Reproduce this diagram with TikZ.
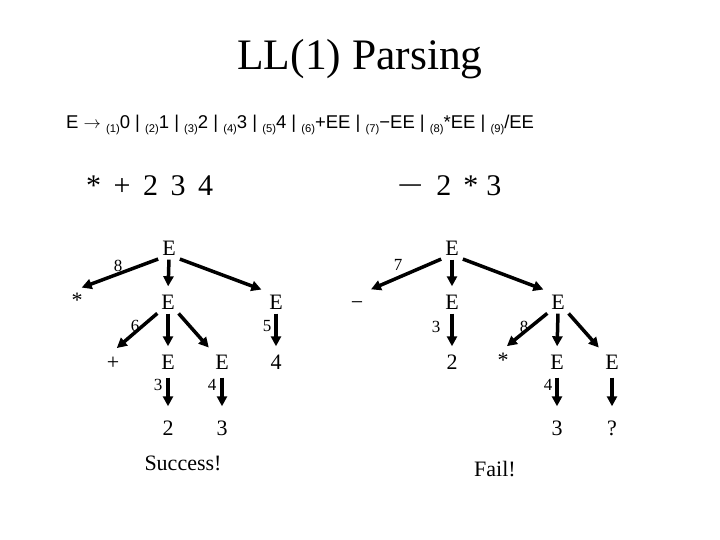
\documentclass[tikz,border=0pt]{standalone}
\usepackage{fontspec}
\setmainfont{Liberation Serif}
\newfontfamily\gramfont{Liberation Sans}
\usetikzlibrary{arrows.meta}
\newcommand{\gsub}[1]{\raisebox{-3.5pt}{\fontsize{11.2}{11.2}\selectfont(#1)}}
\begin{document}
\begin{tikzpicture}[x=1pt,y=-1pt,
  tn/.style={font=\fontsize{22}{22}\selectfont, inner sep=3pt, text height=15pt, text depth=0pt},
  lab/.style={font=\fontsize{17}{17}\selectfont, inner sep=0pt},
  expr/.style={anchor=base, font=\fontsize{30}{30}\selectfont, inner sep=0pt},
  arr/.style={line width=3.5pt, -{Triangle[width=10pt,length=10pt]}, shorten >=5pt, shorten <=1pt},
  longarr/.style={arr, shorten >=11pt, shorten <=5pt}]
\useasboundingbox (0,0) rectangle (720,540);
\fill[white] (0,0) rectangle (720,540);
% title
\node[anchor=base, font=\fontsize{43.5}{43.5}\selectfont, inner sep=0pt] (title) at (360,70) {LL(1) Parsing};
% grammar
\node[anchor=base west, font=\gramfont\fontsize{18.5}{18.5}\selectfont, inner sep=0pt] (gram) at (66,129)
  {E $\rightarrow$ \gsub{1}0 | \gsub{2}1 | \gsub{3}2 | \gsub{4}3 | \gsub{5}4 | \gsub{6}+EE | \gsub{7}\textminus EE | \gsub{8}*EE | \gsub{9}/EE};
% expressions
\node[expr, anchor=base west] (ex1) at (86,196) {\spaceskip=12.5pt\relax * + 2 3 4};
\node[expr, anchor=base west] (ex2) at (397,196) {\scalebox{1.55}[1]{\textminus}\hspace{13pt}2\hspace{12pt}*\hspace{8pt}3};
% left tree
\node[tn] (a) at (169,248) {E};
\node[tn] (a1) at (77,300) {*};
\node[tn] (a2) at (168,302) {E};
\node[tn] (a3) at (276,302) {E};
\node[tn] (a21) at (113,362) {+};
\node[tn] (a22) at (168,362) {E};
\node[tn] (a23) at (222,362) {E};
\node[tn] (a31) at (276,362) {4};
\node[tn] (a221) at (168,428) {2};
\node[tn] (a231) at (222,428) {3};
\draw[arr] (a.south west) -- (a1.north);
\draw[arr] (a.south) -- (a2.north);
\draw[arr] (a.south east) -- (a3.north west);
\draw[arr] (a2.south west) -- (a21.north);
\draw[arr] (a2.south) -- (a22.north);
\draw[arr] (a2.south east) -- (a23.north west);
\draw[arr] (a3.south) -- (a31.north);
\draw[longarr] (a22.south) -- (a221.north);
\draw[longarr] (a23.south) -- (a231.north);
\node[lab] (l8a) at (118,266) {8};
\node[lab] (l6a) at (135,326) {6};
\node[lab] (l5a) at (267,326) {5};
\node[lab] (l3a) at (158,385) {3};
\node[lab] (l4a) at (212,385) {4};
\node[font=\fontsize{22}{22}\selectfont, anchor=base, inner sep=0pt] (succ) at (183,470) {Success!};
% right tree
\node[tn] (b) at (452,248) {E};
\node[tn] (b1) at (357,302) {\textminus};
\node[tn] (b2) at (452,302) {E};
\node[tn] (b3) at (558,302) {E};
\node[tn] (b21) at (452,362) {2};
\node[tn] (b31) at (503,360) {*};
\node[tn] (b32) at (557,362) {E};
\node[tn] (b33) at (612,362) {E};
\node[tn] (b321) at (557,428) {3};
\node[tn] (b331) at (612,428) {?};
\draw[arr] (b.south west) -- (b1.north east);
\draw[arr] (b.south) -- (b2.north);
\draw[arr] (b.south east) -- (b3.north west);
\draw[arr] (b2.south) -- (b21.north);
\draw[arr] (b3.south west) -- (b31.north);
\draw[arr] (b3.south) -- (b32.north);
\draw[arr] (b3.south east) -- (b33.north west);
\draw[longarr] (b32.south) -- (b321.north);
\draw[longarr] (b33.south) -- (b331.north);
\node[lab] (l7b) at (398,265) {7};
\node[lab] (l3b) at (436,327) {3};
\node[lab] (l8b) at (524,327) {8};
\node[lab] (l4b) at (548,385) {4};
\node[font=\fontsize{22}{22}\selectfont, anchor=base, inner sep=0pt] (fail) at (495,476) {Fail!};
\end{tikzpicture}
\end{document}
